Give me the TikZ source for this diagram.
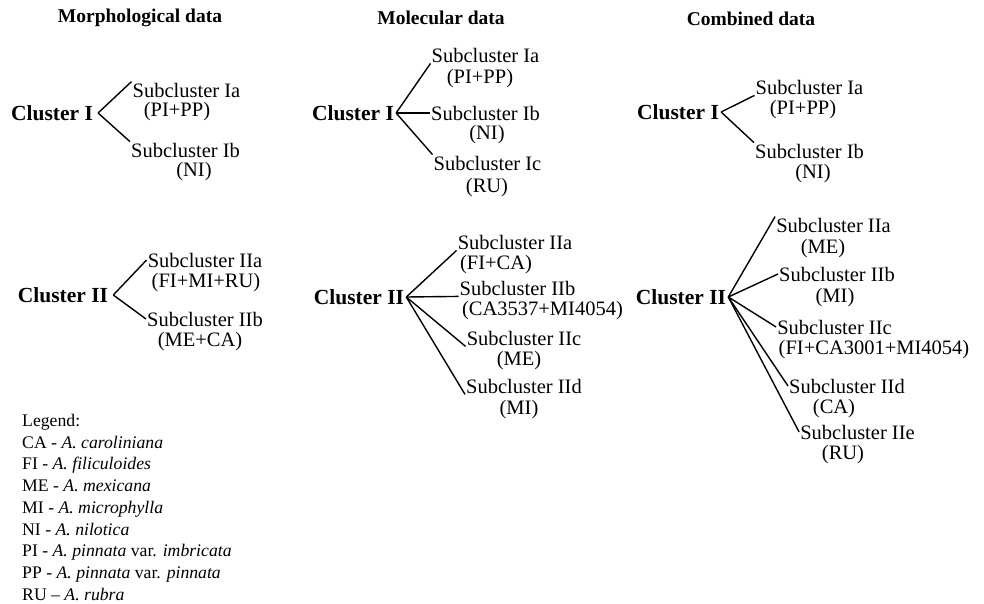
\documentclass[tikz,border=0pt]{standalone}
\usepackage{fontspec}
\setmainfont{Liberation Serif}
\newcommand{\nm}{\fontsize{20.5}{24}\selectfont}
\newcommand{\hd}{\fontsize{19.5}{22}\selectfont\bfseries}
\newcommand{\lgd}{\fontsize{17.7}{21.75}\selectfont}
\begin{document}
\begin{tikzpicture}[x=1pt,y=-1pt,
   sub/.style={inner sep=1pt,font=\nm},
   clu/.style={inner sep=2pt,font=\fontsize{21.5}{24}\selectfont\bfseries},
   ttl/.style={font=\hd},
   br/.style={line width=1.4pt}]
   \useasboundingbox (0,0) rectangle (984,604);
   % titles
   \node[ttl] (morT) at (140,18) {Morphological data};
   \node[ttl] (molT) at (441,18) {Molecular data};
   \node[ttl] (comT) at (751,19) {Combined data};
   % morphological
   \node[clu] (morI)  at ( 52,113) {Cluster I};
   \node[sub] (morIa) at (186.5, 90) {Subcluster Ia};
   \node[sub]         at (177,  112) {(PI+PP)};
   \node[sub] (morIb) at (185.5,150) {Subcluster Ib};
   \node[sub]         at (194,  172) {(NI)};
   \node[clu] (morII)  at ( 63,295) {Cluster II};
   \node[sub] (morIIa) at (205,260) {Subcluster IIa};
   \node[sub]          at (206,283) {(FI+MI+RU)};
   \node[sub] (morIIb) at (205,319) {Subcluster IIb};
   \node[sub]          at (200,342) {(ME+CA)};
   \draw[br] ([xshift=3pt]morI.east) -- (morIa.north west);
   \draw[br] ([xshift=3pt]morI.east) -- (morIb.north west);
   \draw[br] ([xshift=3pt]morII.east) -- (morIIa.west);
   \draw[br] ([xshift=3pt]morII.east) -- (morIIb.west);
   % molecular
   \node[clu] (molI)  at (353,  113) {Cluster I};
   \node[sub] (molIa) at (485.5, 55) {Subcluster Ia};
   \node[sub]         at (480,   79) {(PI+PP)};
   \node[sub] (molIb) at (485.5,113) {Subcluster Ib};
   \node[sub]         at (487,  135) {(NI)};
   \node[sub] (molIc) at (487.5,163) {Subcluster Ic};
   \node[sub]         at (487,  188) {(RU)};
   \node[clu] (molII)  at (359,  297) {Cluster II};
   \node[sub] (molIIa) at (515,  242) {Subcluster IIa};
   \node[sub]          at (496,  265) {(FI+CA)};
   \node[sub] (molIIb) at (517.5,288) {Subcluster IIb};
   \node[sub]          at (542.5,311) {(CA3537+MI4054)};
   \node[sub] (molIIc) at (524,  338) {Subcluster IIc};
   \node[sub]          at (519,  361) {(ME)};
   \node[sub] (molIId) at (524,  386) {Subcluster IId};
   \node[sub]          at (519,  410) {(MI)};
   \draw[br] (molI.east) -- (molIa.south west);
   \draw[br] (molI.east) -- (molIb.west);
   \draw[br] (molI.east) -- (molIc.north west);
   \draw[br] (molII.east) -- (molIIa.south west);
   \draw[br] (molII.east) -- (molIIb.south west);
   \draw[br] (molII.east) -- (molIIc.south west);
   \draw[br] (molII.east) -- (molIId.south west);
   % combined
   \node[clu] (comI)  at (678,  112) {Cluster I};
   \node[sub] (comIa) at (809.5, 87) {Subcluster Ia};
   \node[sub]         at (803,  110) {(PI+PP)};
   \node[sub] (comIb) at (809.5,151) {Subcluster Ib};
   \node[sub]         at (813,  174) {(NI)};
   \node[clu] (comII)  at (681,  297) {Cluster II};
   \node[sub] (comIIa) at (833.5,225) {Subcluster IIa};
   \node[sub]          at (823,  249) {(ME)};
   \node[sub] (comIIb) at (837,  274) {Subcluster IIb};
   \node[sub]          at (835,  298) {(MI)};
   \node[sub] (comIIc) at (834.5,327) {Subcluster IIc};
   \node[sub]          at (874,  350) {(FI+CA3001+MI4054)};
   \node[sub] (comIId) at (847,  386) {Subcluster IId};
   \node[sub]          at (834,  409) {(CA)};
   \node[sub] (comIIe) at (857.5,432) {Subcluster IIe};
   \node[sub]          at (843,  455) {(RU)};
   \draw[br] (comI.east) -- (comIa.south west);
   \draw[br] (comI.east) -- (comIb.north west);
   \draw[br] (comII.east) -- (comIIa.north west);
   \draw[br] (comII.east) -- (comIIb.west);
   \draw[br] (comII.east) -- (comIIc.west);
   \draw[br] (comII.east) -- (comIId.west);
   \draw[br] (comII.east) -- (comIIe.west);
   % legend
   \node[anchor=north west,inner sep=0pt,align=left,font=\lgd] (legend) at (22,414)
     {Legend:\\
      CA - \textit{A. caroliniana}\\
      FI - \textit{A. filiculoides}\\
      ME - \textit{A. mexicana}\\
      MI - \textit{A. microphylla}\\
      NI - \textit{A. nilotica}\\
      PI - \textit{A. pinnata} var. \textit{imbricata}\\
      PP - \textit{A. pinnata} var. \textit{pinnata}\\
      RU -- \textit{A. rubra}};
\end{tikzpicture}
\end{document}
